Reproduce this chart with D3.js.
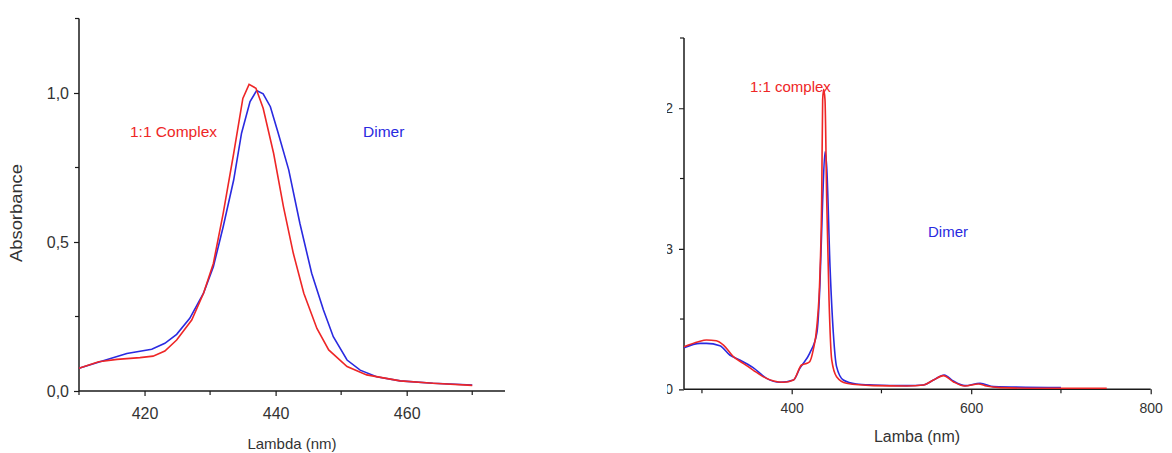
<!DOCTYPE html>
<html>
<head>
<meta charset="utf-8">
<script src="https://cdn.jsdelivr.net/npm/d3@7"></script>
<style>
  html, body { margin: 0; padding: 0; background: #fff; }
  svg { display: block; font-family: "Liberation Sans", Arial, sans-serif; }
</style>
</head>
<body>
<svg id="chart" width="1172" height="453"></svg>
<script>
// ---------- Left panel data (zoomed Soret band) ----------
const leftBlueWl  = [410, 413.2, 417.3, 421.1, 423.1, 424.9, 426.9, 429, 430.5, 432, 433.6, 434.8, 436.1, 437.1, 438.1, 439.2, 440.4, 442, 443.7, 445.5, 447.3, 448.8, 450.9, 452.9, 455.4, 459, 464, 470];
const leftBlueAbs = [0.076, 0.098, 0.126, 0.14, 0.16, 0.19, 0.244, 0.328, 0.417, 0.551, 0.708, 0.865, 0.971, 1.008, 0.997, 0.954, 0.865, 0.742, 0.563, 0.395, 0.272, 0.182, 0.104, 0.07, 0.048, 0.034, 0.026, 0.02];
const leftRedWl   = [410, 413, 415.8, 419.3, 421.3, 423.1, 424.9, 427.2, 429, 430.5, 432, 433.6, 435, 435.95, 437, 438.1, 439.7, 441.2, 442.7, 444.3, 446.3, 448.1, 450.9, 453.9, 459, 464, 470];
const leftRedAbs  = [0.076, 0.098, 0.106, 0.112, 0.117, 0.134, 0.171, 0.238, 0.328, 0.428, 0.596, 0.797, 0.982, 1.029, 1.016, 0.949, 0.797, 0.618, 0.462, 0.328, 0.21, 0.138, 0.082, 0.054, 0.034, 0.026, 0.019];
const leftXTicks = [420, 440, 460];
const leftXMinor = [410, 430, 450, 470];
const leftYTicks = [0, 0.5, 1.0];
const leftYTickLabels = ["0,0", "0,5", "1,0"];
const leftYMinor = [0.25, 0.75, 1.25];

// ---------- Right panel data (full spectrum) ----------
const rightRedWl   = [280, 296, 305, 316, 324, 335, 346, 357, 368, 380, 391, 402, 411, 417, 420, 424, 428, 431.5, 433.4, 434.5, 435.6, 437.1, 439, 441.6, 444.6, 450, 461, 491, 528, 547, 558, 569, 580, 593, 608, 617, 632, 677, 751];
const rightRedAbs  = [0.303, 0.339, 0.351, 0.346, 0.315, 0.232, 0.185, 0.137, 0.09, 0.059, 0.05, 0.066, 0.173, 0.185, 0.196, 0.28, 0.446, 0.826, 1.347, 2.06, 2.135, 2.06, 1.347, 0.636, 0.209, 0.09, 0.043, 0.026, 0.023, 0.031, 0.066, 0.097, 0.054, 0.023, 0.038, 0.023, 0.012, 0.007, 0.007];
const rightBlueWl  = [280, 298, 305, 320, 331, 342, 357, 372, 387, 402, 409, 420, 428, 431.5, 434.5, 437.1, 439, 442.7, 446.4, 450, 457.5, 472, 491, 528, 547, 558, 570, 580, 593, 610, 625, 700];
const rightBlueAbs = [0.296, 0.327, 0.327, 0.31, 0.244, 0.209, 0.154, 0.078, 0.05, 0.066, 0.149, 0.256, 0.399, 0.754, 1.347, 1.691, 1.584, 0.873, 0.399, 0.161, 0.066, 0.038, 0.031, 0.026, 0.031, 0.066, 0.102, 0.059, 0.026, 0.043, 0.019, 0.012];
const rightXTicks = [400, 600, 800];
const rightXMinor = [300, 500, 700];
const rightYTicks = [0, 1, 2];
const rightYTickLabels = ["0", "3", "2"];
const rightYMinor = [0.5, 1.5, 2.5];

const RED = "#ee2626";
const BLUE = "#2a2ae0";
const AXIS = "#1a1a1a";
const TICKTXT = "#333";

const svg = d3.select("#chart");

function zip(xs, ys) { return xs.map((x, i) => [x, ys[i]]); }

function drawMinor(g, scale, vals, orient, len) {
  vals.forEach(v => {
    if (orient === "bottom") {
      g.append("line").attr("x1", scale(v)).attr("x2", scale(v)).attr("y1", 0).attr("y2", len)
        .attr("stroke", AXIS).attr("stroke-width", 1.2);
    } else {
      g.append("line").attr("y1", scale(v)).attr("y2", scale(v)).attr("x1", 0).attr("x2", -len)
        .attr("stroke", AXIS).attr("stroke-width", 1.2);
    }
  });
}

// ================= LEFT PANEL =================
{
  const x = d3.scaleLinear().domain([410, 475]).range([79, 505]);
  const y = d3.scaleLinear().domain([0, 1.25]).range([391, 18.5]);

  const gx = svg.append("g").attr("transform", "translate(0,391)");
  gx.call(d3.axisBottom(x).tickValues(leftXTicks).tickSize(5).tickPadding(12).tickFormat(d3.format("d")));
  gx.select(".domain").attr("stroke", AXIS).attr("stroke-width", 1.5).attr("d", `M${x(410)},0H${x(475)}`);
  gx.selectAll(".tick line").attr("stroke", AXIS).attr("stroke-width", 1.2);
  gx.selectAll(".tick text").attr("font-size", 16).attr("fill", TICKTXT).attr("font-family", "Liberation Sans, Arial, sans-serif");
  drawMinor(gx, x, leftXMinor, "bottom", 4);

  const gy = svg.append("g").attr("transform", "translate(79,0)");
  gy.call(d3.axisLeft(y).tickValues(leftYTicks).tickSize(5).tickPadding(5)
    .tickFormat((d, i) => leftYTickLabels[i]));
  gy.select(".domain").attr("stroke", AXIS).attr("stroke-width", 1.5).attr("d", `M0,${y(0)}V${y(1.25)}`);
  gy.selectAll(".tick line").attr("stroke", AXIS).attr("stroke-width", 1.2);
  gy.selectAll(".tick text").attr("font-size", 16).attr("fill", TICKTXT).attr("font-family", "Liberation Sans, Arial, sans-serif");
  drawMinor(gy, y, leftYMinor, "left", 4);

  const line = d3.line().x(d => x(d[0])).y(d => y(d[1]));
  svg.append("path").datum(zip(leftBlueWl, leftBlueAbs)).attr("d", line)
    .attr("fill", "none").attr("stroke", BLUE).attr("stroke-width", 1.6);
  svg.append("path").datum(zip(leftRedWl, leftRedAbs)).attr("d", line)
    .attr("fill", "none").attr("stroke", RED).attr("stroke-width", 1.6);

  svg.append("text").attr("x", 130).attr("y", 137).attr("font-size", 15.5).attr("fill", RED).text("1:1 Complex");
  svg.append("text").attr("x", 363).attr("y", 137).attr("font-size", 15.5).attr("fill", BLUE).text("Dimer");

  svg.append("text").attr("x", 292).attr("y", 449).attr("text-anchor", "middle").attr("font-size", 15)
    .attr("fill", TICKTXT).text("Lambda (nm)");
  svg.append("text").attr("transform", "translate(22,213) rotate(-90)").attr("text-anchor", "middle")
    .attr("font-size", 16).attr("textLength", 98).attr("lengthAdjust", "spacingAndGlyphs")
    .attr("fill", TICKTXT).text("Absorbance");
}

// ================= RIGHT PANEL =================
{
  const x = d3.scaleLinear().domain([400, 800]).range([791.7, 1150.7]);
  const y = d3.scaleLinear().domain([0, 2.5]).range([389.3, 38]);
  const xStart = 280;

  const gx = svg.append("g").attr("transform", "translate(0,389.3)");
  gx.call(d3.axisBottom(x).tickValues(rightXTicks).tickSize(5).tickPadding(9).tickFormat(d3.format("d")));
  gx.select(".domain").attr("stroke", AXIS).attr("stroke-width", 1.5).attr("d", `M${x(xStart)},0H${x(800)}`);
  gx.selectAll(".tick line").attr("stroke", AXIS).attr("stroke-width", 1.2);
  gx.selectAll(".tick text").attr("font-size", 14).attr("fill", TICKTXT).attr("font-family", "Liberation Sans, Arial, sans-serif");
  drawMinor(gx, x, rightXMinor, "bottom", 4);

  const yAxisX = x(xStart);
  const gy = svg.append("g").attr("transform", `translate(${yAxisX},0)`);
  gy.call(d3.axisLeft(y).tickValues(rightYTicks).tickSize(5).tickPadding(6)
    .tickFormat((d, i) => rightYTickLabels[i]));
  gy.select(".domain").attr("stroke", AXIS).attr("stroke-width", 1.5).attr("d", `M0,${y(0)}V${y(2.5)}`);
  gy.selectAll(".tick line").attr("stroke", AXIS).attr("stroke-width", 1.2);
  gy.selectAll(".tick text").attr("font-size", 14).attr("fill", TICKTXT).attr("font-family", "Liberation Sans, Arial, sans-serif");
  drawMinor(gy, y, rightYMinor, "left", 4);
  gy.append("defs").append("clipPath").attr("id", "rclipLocal")
    .append("rect").attr("x", 667 - yAxisX).attr("y", -20).attr("width", 40).attr("height", 40);
  gy.selectAll(".tick").attr("clip-path", "url(#rclipLocal)");

  const line = d3.line().x(d => x(d[0])).y(d => y(d[1])).curve(d3.curveMonotoneX);
  svg.append("path").datum(zip(rightBlueWl, rightBlueAbs)).attr("d", line)
    .attr("fill", "none").attr("stroke", BLUE).attr("stroke-width", 1.6);
  svg.append("path").datum(zip(rightRedWl, rightRedAbs)).attr("d", line)
    .attr("fill", "none").attr("stroke", RED).attr("stroke-width", 1.6);

  svg.append("text").attr("x", 750).attr("y", 92).attr("font-size", 15).attr("fill", RED).text("1:1 complex");
  svg.append("text").attr("x", 928).attr("y", 237).attr("font-size", 15).attr("fill", BLUE).text("Dimer");

  svg.append("text").attr("x", 917).attr("y", 442).attr("text-anchor", "middle").attr("font-size", 16)
    .attr("fill", TICKTXT).text("Lamba (nm)");
}
</script>
</body>
</html>
